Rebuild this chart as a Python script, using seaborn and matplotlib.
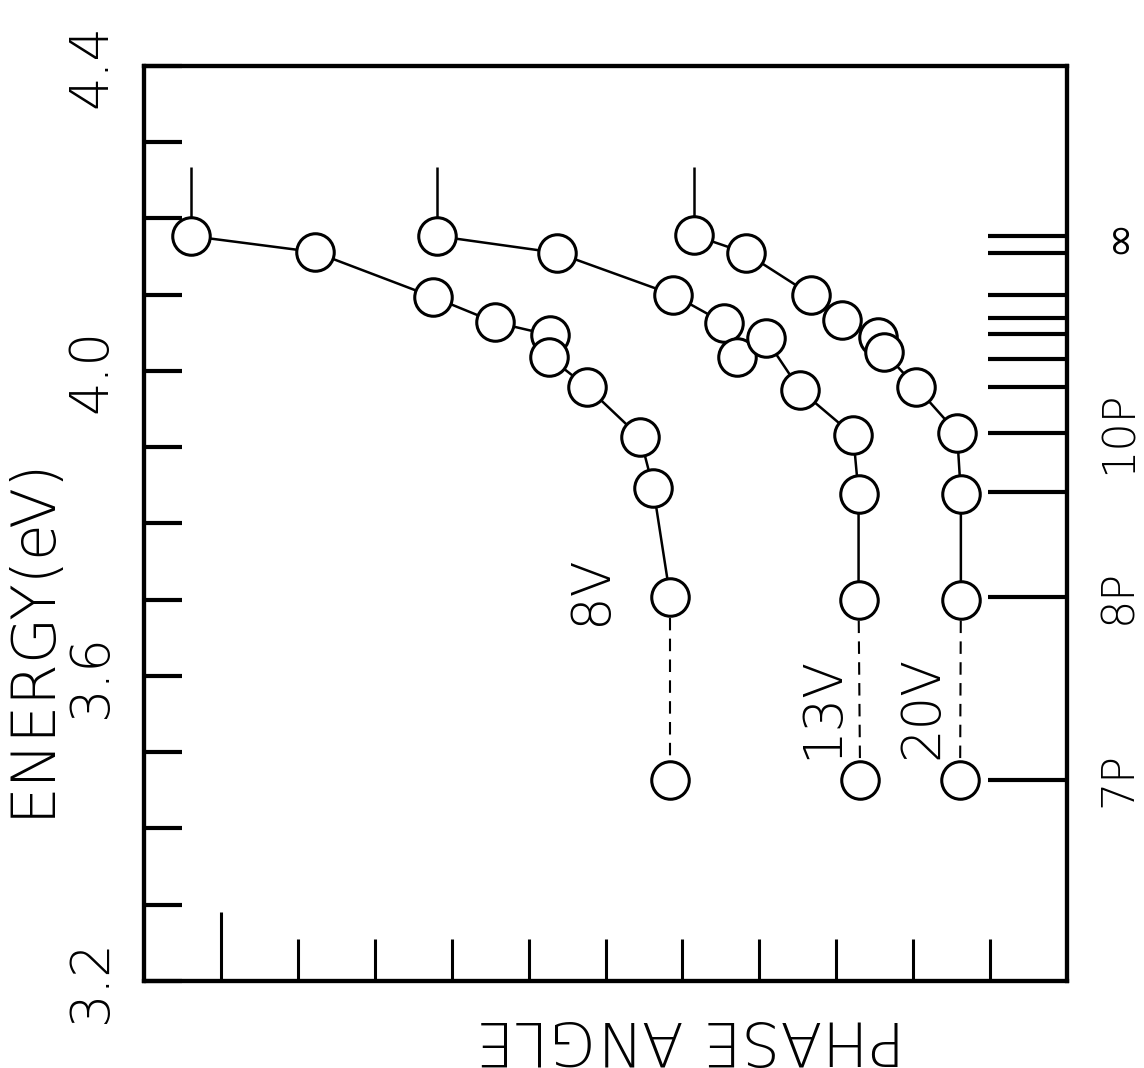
'''
Phase angle vs energy (scanned figure, drawn in its rotated orientation)
'''

import pandas as pd
import seaborn as sns
import matplotlib.pyplot as plt

# 1. Data
# phase angle in tick units (0-12), energy in eV
series_names = ['8V', '13V', '20V']

phase_8v = [0.61, 2.22, 3.76, 4.56, 5.28, 5.27, 5.76, 6.45, 6.62, 6.84, 6.84]
energy_8v = [4.177, 4.156, 4.097, 4.064, 4.047, 4.018, 3.979, 3.913, 3.847, 3.704, 3.464]

phase_13v = [3.81, 5.37, 6.88, 7.54, 7.71, 8.08, 8.53, 9.22, 9.29, 9.29, 9.31]
energy_13v = [4.177, 4.155, 4.100, 4.063, 4.018, 4.043, 3.975, 3.916, 3.839, 3.700, 3.464]

phase_20v = [7.15, 7.82, 8.67, 9.08, 9.54, 9.62, 10.04, 10.57, 10.62, 10.62, 10.61]
energy_20v = [4.178, 4.155, 4.100, 4.067, 4.045, 4.025, 3.979, 3.919, 3.839, 3.700, 3.464]

# short vertical marks above the first point of each series
mark_top = 4.268

# series labels (position = phase, energy)
label_text = ['8V', '13V', '20V']
label_phase = [5.81, 8.82, 10.13]
label_energy = [3.713, 3.559, 3.559]

# Rydberg levels on the right axis
level_energy = [4.177, 4.155, 4.100, 4.070, 4.049, 4.016, 3.979, 3.919, 3.841, 3.704, 3.464]
level_labels = ['\u221e', '', '', '', '', '', '', '10P', '', '8P', '7P']

# left energy ticks
energy_ticks = [3.2, 3.3, 3.4, 3.5, 3.6, 3.7, 3.8, 3.9, 4.0, 4.1, 4.2, 4.3, 4.4]
energy_tick_labels = ['3.2', '', '', '', '3.6', '', '', '', '4.0', '', '', '', '4.4']

# bottom phase ticks
phase_ticks_long = [1]
phase_ticks = [2, 3, 4, 5, 6, 7, 8, 9, 10, 11]

# 2. Build a DataFrame
rows = []
for name, ph, en in zip(series_names,
                        [phase_8v, phase_13v, phase_20v],
                        [energy_8v, energy_13v, energy_20v]):
    for i, (p, e) in enumerate(zip(ph, en)):
        rows.append({'series': name, 'phase': p, 'energy': e, 'idx': i})
df = pd.DataFrame(rows)

# 3. Plot
sns.set_style('white')
plt.rcParams['font.family'] = ['DejaVu Sans']
plt.rcParams['font.weight'] = 'light'
plt.rcParams['text.color'] = 'black'
plt.rcParams['xtick.color'] = 'black'
plt.rcParams['ytick.color'] = 'black'
plt.rcParams['axes.edgecolor'] = 'black'

fig = plt.figure(figsize=(11.44, 10.68), dpi=100)
ax = fig.add_axes([0.1259, 0.0815, 0.8068, 0.8567])

marker_kw = dict(marker='o', markersize=27, markerfacecolor='white',
                 markeredgecolor='black', markeredgewidth=2.2)

for name in series_names:
    d = df[df['series'] == name]
    last = d['idx'].max()
    # dashed tail to the lowest point
    sns.lineplot(data=d[d['idx'] >= last - 1], x='phase', y='energy',
                 sort=False, estimator=None, color='black', lw=1.5,
                 linestyle=(0, (6, 4)), markevery=[1], zorder=2, ax=ax,
                 **marker_kw)
    # solid part
    sns.lineplot(data=d[d['idx'] < last], x='phase', y='energy',
                 sort=False, estimator=None, color='black', lw=1.8,
                 zorder=3, ax=ax, **marker_kw)
    first = d[d['idx'] == 0]
    ax.vlines(first['phase'], first['energy'], mark_top, color='black',
              lw=1.8, zorder=1)

for t, p, e in zip(label_text, label_phase, label_energy):
    ax.text(p, e, t, rotation=90, ha='center', va='center', fontsize=38)

ax.set_xlim(0, 12)
ax.set_ylim(3.2, 4.4)
ax.set_xlabel('')
ax.set_ylabel('')

ax.set_xticks(phase_ticks)
ax.set_xticks(phase_ticks_long, minor=True)
ax.tick_params(axis='x', which='major', direction='in', length=30, width=2.2,
               labelbottom=False, bottom=True, top=False)
ax.tick_params(axis='x', which='minor', direction='in', length=50, width=2.2,
               labelbottom=False, bottom=True, top=False)

ax.set_yticks(energy_ticks, energy_tick_labels)
ax.tick_params(axis='y', direction='in', length=27, width=3, pad=19,
               labelsize=38, left=True, right=False)
for lab in ax.get_yticklabels():
    lab.set_rotation(90)
    lab.set_va('center')

for s in ax.spines.values():
    s.set_linewidth(3)
    s.set_color('black')

# right axis with level marks
ax2 = ax.twinx()
ax2.set_ylim(3.2, 4.4)
ax2.set_yticks(level_energy, level_labels)
ax2.tick_params(axis='y', direction='in', length=57, width=3, pad=22,
                labelsize=32, right=True, left=False)
for lab in ax2.get_yticklabels():
    lab.set_rotation(90)
    lab.set_va('center')
    if lab.get_text() == '\u221e':
        # the light face has no infinity sign
        lab.set_family(['DejaVu Sans'])
        lab.set_fontweight('normal')
        lab.set_fontsize(31)
for s in ax2.spines.values():
    s.set_linewidth(3)
    s.set_color('black')

fig.text(32 / 1144, 1 - 636 / 1068, 'ENERGY(eV)', rotation=90,
         ha='center', va='center', fontsize=43)
fig.text(690 / 1144, 1 - 1037 / 1068, 'PHASE ANGLE', rotation=180,
         ha='center', va='center', fontsize=44)

fig.savefig('out.png', dpi=100)
